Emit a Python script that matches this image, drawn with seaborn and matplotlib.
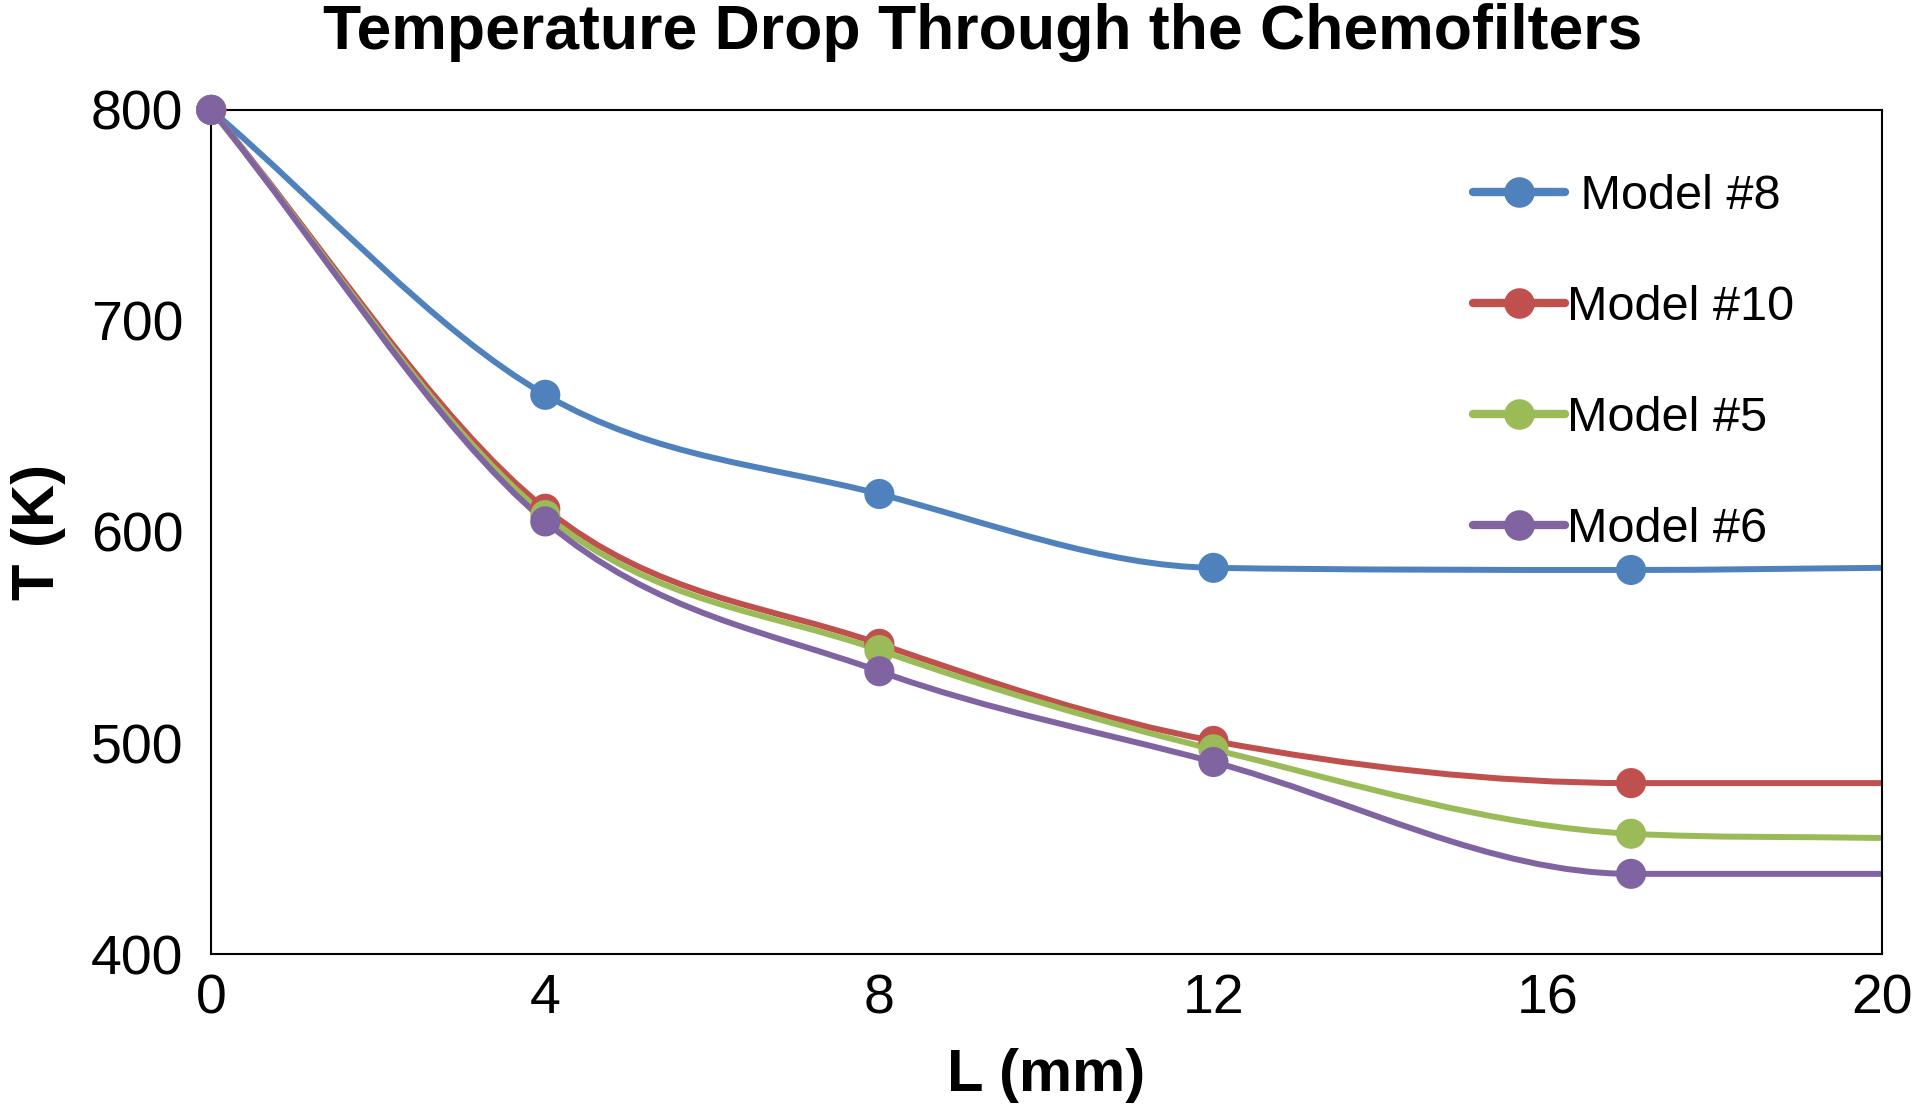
import matplotlib
matplotlib.use("Agg")
import matplotlib.pyplot as plt
import numpy as np
import pandas as pd
import seaborn as sns
from matplotlib.path import Path
from matplotlib.patches import PathPatch
from matplotlib.lines import Line2D

# data (last point at x=20 carries no marker)
L_mm = [0, 4, 8, 12, 17, 20]
model_8 = [800, 665, 618, 583, 582, 583]
model_10 = [800, 611, 547, 501, 481, 481]
model_5 = [800, 608, 544, 497, 457, 455]
model_6 = [800, 605, 534, 491, 438, 438]

labels = [" Model #8", "Model #10", "Model #5", "Model #6"]
series = [model_8, model_10, model_5, model_6]
colors = ["#4F81BD", "#C0504D", "#9BBB59", "#8064A2"]

sns.set_style("white")
plt.rcParams['font.family'] = ['Liberation Sans', 'DejaVu Sans']
plt.rcParams['text.color'] = 'black'
plt.rcParams['axes.labelcolor'] = 'black'
plt.rcParams['xtick.color'] = 'black'
plt.rcParams['ytick.color'] = 'black'

fig = plt.figure(figsize=(19.2, 11.1), dpi=100)
ax = fig.add_axes([0.110, 0.1405, 0.870, 0.7605])


def smooth_path(xs, ys):
    # smoothed line like excel: hermite segments (catmull-rom tangents,
    # limited so flat parts stay flat) drawn as cubic beziers
    x = np.asarray(xs, float)
    y = np.asarray(ys, float)
    n = len(x)
    d = np.diff(y) / np.diff(x)
    m = np.zeros(n)
    m[0], m[-1] = d[0], d[-1]
    for i in range(1, n - 1):
        if d[i - 1] * d[i] <= 0:
            m[i] = 0.0
        else:
            cr = (y[i + 1] - y[i - 1]) / (x[i + 1] - x[i - 1])
            lim = 3 * min(abs(d[i - 1]), abs(d[i]))
            m[i] = np.sign(cr) * min(abs(cr), lim)
    verts = [(x[0], y[0])]
    codes = [Path.MOVETO]
    for i in range(n - 1):
        h = x[i + 1] - x[i]
        verts += [(x[i] + h / 3, y[i] + m[i] * h / 3),
                  (x[i + 1] - h / 3, y[i + 1] - m[i + 1] * h / 3),
                  (x[i + 1], y[i + 1])]
        codes += [Path.CURVE4] * 3
    return Path(verts, codes)


handles = []
for lab, ys, col in zip(labels, series, colors):
    ax.add_patch(PathPatch(smooth_path(L_mm, ys), facecolor="none", edgecolor=col,
                           lw=4.3, capstyle="butt", zorder=2))
    df = pd.DataFrame({"L": L_mm[:5], "T": ys[:5]})
    sns.scatterplot(data=df, x="L", y="T", color=col, s=470, edgecolor="none",
                    ax=ax, zorder=3, clip_on=False)
    handles.append(Line2D([], [], color=col, lw=6, marker="o", markersize=21,
                          solid_capstyle="round"))

ax.set_xlim(0, 20)
ax.set_ylim(400, 800)
ax.set_xticks([0, 4, 8, 12, 16, 20])
ax.set_yticks([400, 500, 600, 700, 800])
ax.tick_params(axis="both", labelsize=40, length=0)
ax.tick_params(axis="x", pad=14)
ax.tick_params(axis="y", pad=20)
for s in ax.spines.values():
    s.set_color("black")
    s.set_linewidth(1.5)

ax.set_xlabel("L (mm)", fontsize=43, fontweight="bold", labelpad=16)
ax.set_ylabel("T (K)", fontsize=43, fontweight="bold", labelpad=18)
fig.suptitle("Temperature Drop Through the Chemofilters", fontsize=45,
             fontweight="bold", x=0.512, y=0.997, va="top")

ax.legend(handles, labels, loc="upper left", bbox_to_anchor=(0.729, 0.976),
          frameon=False, fontsize=35, handlelength=1.9, handletextpad=0.05,
          labelspacing=1.36)

plt.savefig("out.png", dpi=100)
